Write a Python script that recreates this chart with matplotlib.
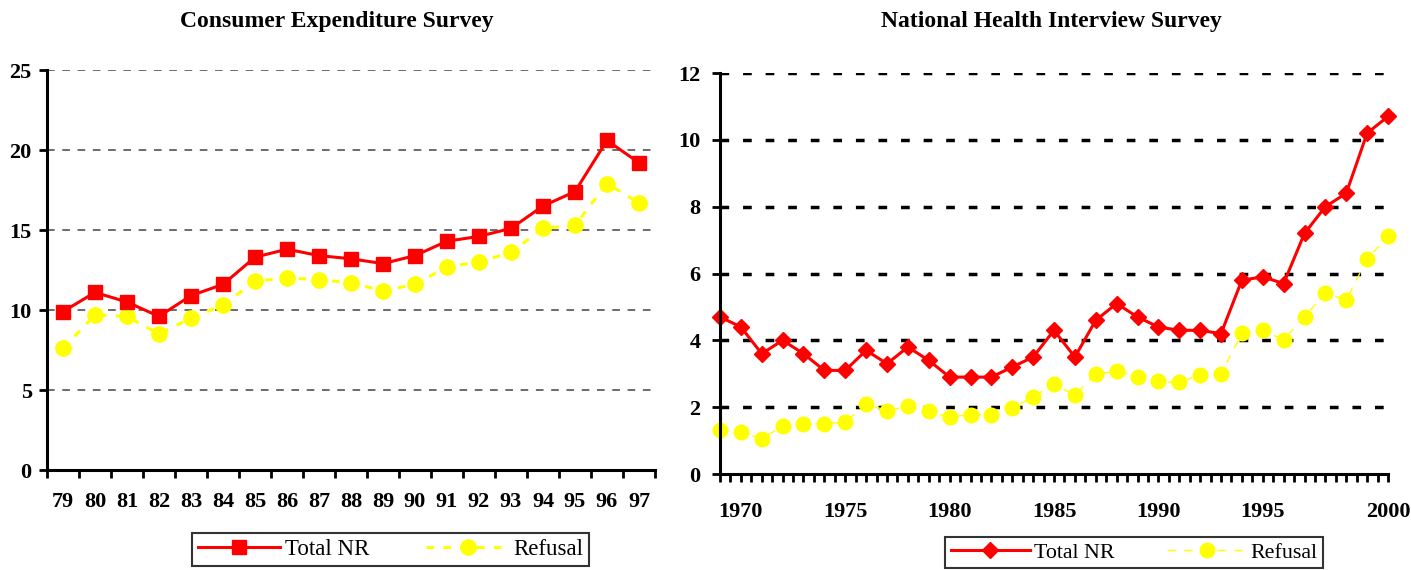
import numpy as np
import matplotlib
matplotlib.use("Agg")
import matplotlib.pyplot as plt
from matplotlib import rcParams
from matplotlib.font_manager import FontProperties

rcParams.update({'font.family': 'Liberation Serif'})

# Consumer Expenditure Survey (left)
ce_years = ['79', '80', '81', '82', '83', '84', '85', '86', '87', '88',
            '89', '90', '91', '92', '93', '94', '95', '96', '97']
ce_total = [9.9, 11.1, 10.5, 9.6, 10.9, 11.6, 13.3, 13.8, 13.4, 13.2,
            12.9, 13.4, 14.3, 14.6, 15.1, 16.5, 17.4, 20.6, 19.2]
ce_refusal = [7.6, 9.7, 9.6, 8.5, 9.5, 10.3, 11.8, 12.0, 11.9, 11.7,
              11.2, 11.6, 12.7, 13.0, 13.6, 15.1, 15.3, 17.9, 16.7]

# National Health Interview Survey (right)
nhis_total = [4.7, 4.4, 3.6, 4.0, 3.6, 3.1, 3.1, 3.7, 3.3, 3.8, 3.4,
              2.9, 2.9, 2.9, 3.2, 3.5, 4.3, 3.5, 4.6, 5.1, 4.7, 4.4,
              4.3, 4.3, 4.2, 5.8, 5.9, 5.7, 7.2, 8.0, 8.4, 10.2, 10.7]
nhis_refusal = [1.33, 1.25, 1.06, 1.43, 1.5, 1.5, 1.56, 2.09, 1.9, 2.02, 1.88,
                1.7, 1.78, 1.78, 1.98, 2.3, 2.7, 2.35, 3.0, 3.07, 2.91, 2.77,
                2.74, 2.97, 3.0, 4.21, 4.3, 4.02, 4.71, 5.41, 5.21, 6.44, 7.11]
nhis_ticklabels = ['1970', '1975', '1980', '1985', '1990', '1995', '2000']
nhis_tickidx = [1, 6, 11, 16, 21, 26, 32]

fig = plt.figure(figsize=(14.11, 5.70), dpi=100)

tickfont = FontProperties(family='Liberation Serif', weight='bold', size=16)

# ---------- left chart
ax1 = fig.add_axes([47/1411, 100/570, 608/1411, 400/570])
x1 = np.arange(len(ce_years)) + 0.5
ax1.plot(x1, ce_total, color='#ff0000', lw=2.2, marker='s', markersize=10,
         label='Total NR', zorder=4)
ax1.plot(x1, ce_refusal, color='#ffff00', lw=2.2, ls=(0, (2.5, 3)), marker='o',
         markersize=11, label='Refusal', zorder=3)
ax1.set_xlim(0, len(ce_years))
ax1.set_ylim(0, 25)
ax1.set_yticks(range(0, 26, 5))
ax1.set_xticks(np.arange(len(ce_years) + 1))
ax1.set_xticklabels([])
ax1.set_xticks(x1, minor=True)
ax1.set_xticklabels(ce_years, minor=True)
ax1.tick_params(axis='x', which='major', length=6, width=2, direction='out')
ax1.tick_params(axis='x', which='minor', length=0, pad=16)
ax1.tick_params(axis='y', length=6, width=2, pad=5)
for lab in ax1.get_xticklabels(minor=True) + ax1.get_yticklabels():
    lab.set_fontproperties(tickfont)
ax1.yaxis.grid(True, color='#444444', ls=(0, (5, 5)), lw=1.1)
ax1.yaxis.get_gridlines()[0].set_visible(False)
ax1.set_axisbelow(True)
for s in ['top', 'right']:
    ax1.spines[s].set_visible(False)
for s in ['left', 'bottom']:
    ax1.spines[s].set_linewidth(2.2)
    ax1.spines[s].set_zorder(5)
fig.text(337/1411, 1 - 22/570, 'Consumer Expenditure Survey', fontsize=17,
         fontweight='bold', ha='center', va='center')
leg1 = ax1.legend(loc='upper center', bbox_to_anchor=(0.565, -0.13), ncol=2,
                  frameon=True, fancybox=False, edgecolor='black',
                  prop={'family': 'Liberation Serif', 'size': 16.5},
                  handlelength=3.6, columnspacing=2.5, borderpad=0.25,
                  handletextpad=0.2)
leg1.get_frame().set_linewidth(1.5)

# ---------- right chart
ax2 = fig.add_axes([720/1411, 96/570, 668/1411, 401/570])
x2 = np.arange(len(nhis_total))
ax2.plot(x2, nhis_total, color='#ff0000', lw=2.2, marker='D', markersize=8,
         label='Total NR', zorder=4, clip_on=False)
ax2.plot(x2, nhis_refusal, color='#ffff00', lw=1.0, ls=(0, (6, 6)), marker='o',
         markersize=10.5, label='Refusal', zorder=3, clip_on=False)
ax2.set_xlim(0, len(nhis_total) - 1)
ax2.set_ylim(0, 12)
ax2.set_yticks(range(0, 13, 2))
ax2.set_xticks(nhis_tickidx)
ax2.set_xticklabels(nhis_ticklabels)
ax2.set_xticks(np.arange(0, len(nhis_total) - 0.9, 0.5), minor=True)
ax2.tick_params(axis='x', which='both', length=6, width=2, direction='out')
ax2.tick_params(axis='x', which='major', pad=14)
ax2.tick_params(axis='y', length=6, width=2, pad=8)
for lab in ax2.get_xticklabels() + ax2.get_yticklabels():
    lab.set_fontproperties(tickfont)
ax2.yaxis.grid(True, color='black', ls=(0, (2.5, 4)), lw=2.5)
ax2.yaxis.get_gridlines()[0].set_visible(False)
ax2.set_axisbelow(True)
for s in ['top', 'right']:
    ax2.spines[s].set_visible(False)
for s in ['left', 'bottom']:
    ax2.spines[s].set_linewidth(2.2)
    ax2.spines[s].set_zorder(5)
fig.text(1051/1411, 1 - 22/570, 'National Health Interview Survey', fontsize=17,
         fontweight='bold', ha='center', va='center')
leg2 = ax2.legend(loc='upper center', bbox_to_anchor=(0.62, -0.13), ncol=2,
                  frameon=True, fancybox=False, edgecolor='black',
                  prop={'family': 'Liberation Serif', 'size': 15.8},
                  handlelength=3.6, columnspacing=2.4, borderpad=0.25,
                  handletextpad=0.2)
leg2.get_frame().set_linewidth(1.5)

fig.savefig('out.png', dpi=100)
